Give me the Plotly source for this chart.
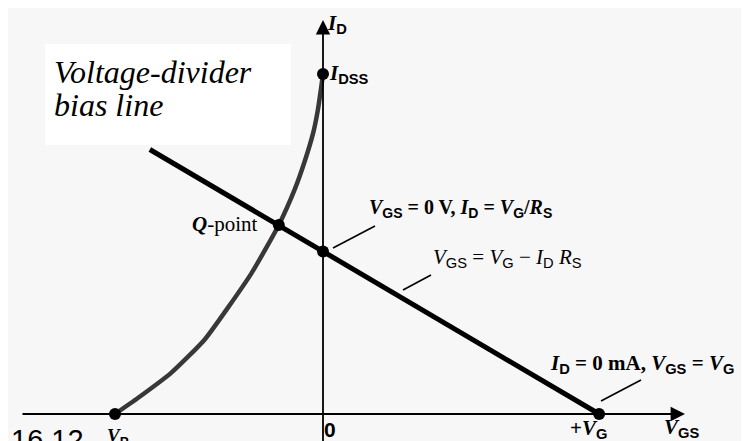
import plotly.graph_objects as go

# ---------------- data (V_GS in volts, I_D in mA; schematic values) ----------------
curve_vgs = [-4.0, -3.56, -2.92, -2.27, -1.38, -0.85, -0.54, -0.35, -0.19, -0.10, -0.04, 0.0]
curve_id = [0.0, 0.47, 1.21, 2.20, 4.13, 5.56, 6.62, 7.44, 8.26, 8.93, 9.55, 10.0]

line_vgs = [-3.33, 0.0, 5.31]
line_id = [7.78, 4.78, 0.0]

point_names = ["V_P", "I_DSS", "Q-point", "V_G/R_S", "+V_G"]
point_vgs = [-4.0, 0.0, -0.85, 0.0, 5.31]
point_id = [0.0, 10.0, 5.56, 4.78, 0.0]

# ---------------- layout geometry ----------------
W, H = 749, 441
X0, Y0 = 315, 406      # pixel position of origin
SX, SY = 52, 34        # pixels per unit

xr = [-X0 / SX, (W - X0) / SX]
yr = [-(H - Y0) / SY, Y0 / SY]


def dx(px):
    return (px - X0) / SX


def dy(py):
    return (Y0 - py) / SY


def pxp(px):
    return px / W


def pyp(py):
    return 1 - py / H


SANS = "Liberation Sans"
SERIF = "Liberation Serif"


def sub(t):
    return f"<sub><span style='font-family:{SANS}'>{t}</span></sub>"


def var(v, s=""):
    return f"<i>{v}</i>" + (sub(s) if s else "")


fig = go.Figure()

# curve (transfer characteristic)
fig.add_trace(go.Scatter(x=curve_vgs, y=curve_id, mode="lines",
                         line=dict(color="#383838", width=4.5, shape="spline", smoothing=0.5),
                         hoverinfo="skip", showlegend=False))
# bias line
fig.add_trace(go.Scatter(x=line_vgs, y=line_id, mode="lines",
                         line=dict(color="#000000", width=5),
                         hoverinfo="skip", showlegend=False))
# points
fig.add_trace(go.Scatter(x=point_vgs, y=point_id, mode="markers", text=point_names,
                         marker=dict(color="#000000", size=12),
                         hoverinfo="text", showlegend=False))

shapes = []
# white label box
shapes.append(dict(type="rect", xref="paper", yref="paper",
                   x0=pxp(37), x1=pxp(283), y0=pyp(137), y1=pyp(36),
                   fillcolor="#ffffff", line=dict(width=0), layer="below"))
# leader lines
for (a, b, c, d) in [(325, 240, 367, 218), (395, 282, 423, 267), (593, 393, 633, 372)]:
    shapes.append(dict(type="line", xref="paper", yref="paper",
                       x0=pxp(a), y0=pyp(b), x1=pxp(c), y1=pyp(d),
                       line=dict(color="#000000", width=1.6)))

annotations = []
# axes with arrowheads
annotations.append(dict(x=dx(677), y=0, ax=dx(13), ay=0, xref="x", yref="y",
                        axref="x", ayref="y", text="", showarrow=True,
                        arrowhead=2, arrowsize=1.6, arrowwidth=1.8, arrowcolor="#000000"))
annotations.append(dict(x=0, y=dy(12), ax=0, ay=dy(438), xref="x", yref="y",
                        axref="x", ayref="y", text="", showarrow=True,
                        arrowhead=2, arrowsize=1.6, arrowwidth=1.8, arrowcolor="#000000"))


def label(text, px, py, size=20, anchor="left", family=SERIF, vanchor="middle"):
    annotations.append(dict(x=pxp(px), y=pyp(py), xref="paper", yref="paper",
                            text=text, showarrow=False, xanchor=anchor, yanchor=vanchor,
                            font=dict(family=family, size=size, color="#000000")))


label("<i>Voltage-divider</i>", 44, 64, size=32)
label("<i>bias line</i>", 44, 97, size=32)
label("<b>" + var("I", "D") + "</b>", 317, 16, size=21)
label("<b>" + var("I", "DSS") + "</b>", 319, 66, size=21)
label("<b><i>Q</i></b>-point", 252, 216, size=21, anchor="right")
label("<b>" + var("V", "GS") + " = 0 V, " + var("I", "D") + " = " + var("V", "G") + "/" + var("R", "S") + "</b>",
      359, 200, size=20)
label(var("V", "GS") + " = " + var("V", "G") + " − " + var("I", "D") + " " + var("R", "S"),
      423, 250, size=21)
label("<b>" + var("I", "D") + " = 0 mA, " + var("V", "GS") + " = " + var("V", "G") + "</b>",
      540, 356, size=21)
label("<b>+" + var("V", "G") + "</b>", 560, 421, size=21)
label("<b>" + var("V", "GS") + "</b>", 654, 420, size=21)
label("<b>0</b>", 314, 421, size=21, family=SANS)
label("<b>" + var("V", "P") + "</b>", 97, 429, size=19)
label("16.12", 1, 414, size=29, family=SANS, vanchor="top")

fig.update_layout(
    width=W, height=H,
    margin=dict(l=0, r=0, t=0, b=0),
    paper_bgcolor="#f7f7f7", plot_bgcolor="#f7f7f7",
    xaxis=dict(range=xr, visible=False, fixedrange=True),
    yaxis=dict(range=yr, visible=False, fixedrange=True),
    shapes=shapes, annotations=annotations,
    showlegend=False,
)

fig.write_html("out.html")
